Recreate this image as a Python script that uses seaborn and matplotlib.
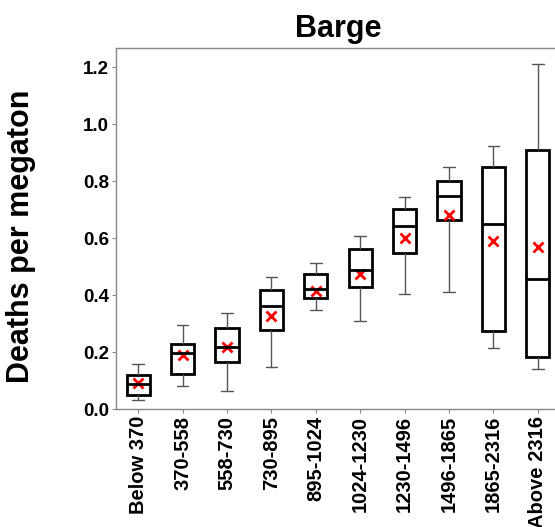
import matplotlib
matplotlib.use("Agg")
import matplotlib.pyplot as plt
import seaborn as sns
import pandas as pd

categories = ["Below 370", "370-558", "558-730", "730-895", "895-1024",
              "1024-1230", "1230-1496", "1496-1865", "1865-2316", "Above 2316"]
whisker_low = [0.033, 0.080, 0.062, 0.148, 0.348, 0.309, 0.402, 0.412, 0.213, 0.141]
q1 = [0.048, 0.124, 0.165, 0.278, 0.388, 0.427, 0.547, 0.663, 0.273, 0.182]
median = [0.088, 0.195, 0.218, 0.362, 0.422, 0.488, 0.642, 0.747, 0.651, 0.455]
q3 = [0.121, 0.229, 0.286, 0.419, 0.475, 0.563, 0.701, 0.801, 0.850, 0.909]
whisker_high = [0.158, 0.294, 0.337, 0.463, 0.511, 0.606, 0.743, 0.848, 0.922, 1.211]
means = [0.091, 0.188, 0.218, 0.327, 0.414, 0.473, 0.601, 0.682, 0.591, 0.568]

rows = []
for i, c in enumerate(categories):
    for v in (whisker_low[i], q1[i], median[i], q3[i], whisker_high[i]):
        rows.append({"cat": c, "val": v})
df = pd.DataFrame(rows)
mdf = pd.DataFrame({"cat": categories, "val": means})

sns.set_theme(style="white")
plt.rcParams["font.family"] = ["Liberation Sans", "DejaVu Sans"]
plt.rcParams["text.color"] = "black"
plt.rcParams["xtick.color"] = "black"
plt.rcParams["ytick.color"] = "black"
plt.rcParams["axes.labelcolor"] = "black"

fig = plt.figure(figsize=(5.55, 5.27), dpi=100)
ax = fig.add_axes([116 / 555, (527 - 409) / 527, (560 - 116) / 555, (409 - 48) / 527])

sns.boxplot(data=df, x="cat", y="val", order=categories, whis=(0, 100), width=0.52,
            color="white", linecolor="black", showfliers=False, ax=ax,
            boxprops=dict(facecolor="white", edgecolor="black", linewidth=2.0),
            medianprops=dict(color="black", linewidth=2.0),
            whiskerprops=dict(color="#555555", linewidth=1.0),
            capprops=dict(color="#555555", linewidth=1.0))

sns.pointplot(data=mdf, x="cat", y="val", order=categories, linestyle="none",
              marker="x", color="red", errorbar=None, markersize=6.5,
              markeredgewidth=2.0, ax=ax)

ax.set_xlim(-0.5, 9.5)
ax.set_ylim(0, 1.267)
ax.set_yticks([0.0, 0.2, 0.4, 0.6, 0.8, 1.0, 1.2])
ax.set_yticklabels(["0.0", "0.2", "0.4", "0.6", "0.8", "1.0", "1.2"],
                   fontsize=13.5, fontweight="bold", color="black")
ax.set_xticks(range(len(categories)))
ax.set_xticklabels(categories, rotation=90, fontsize=14.5, fontweight="bold", color="black")
ax.set_xlabel("")
ax.set_ylabel("")
fig.text(21.5 / 555, (527 - 236) / 527, "Deaths per megaton", rotation=90,
         ha="center", va="center", fontsize=22, fontweight="bold", color="black")
ax.set_title("Barge", fontsize=22, fontweight="bold", pad=8, color="black")

for s in ax.spines.values():
    s.set_color("#888888")
    s.set_linewidth(1.0)
ax.tick_params(axis="both", which="both", length=3, width=0.8, color="#888888",
               direction="out", bottom=True, left=True, pad=2)

fig.savefig("out.png", dpi=100)
